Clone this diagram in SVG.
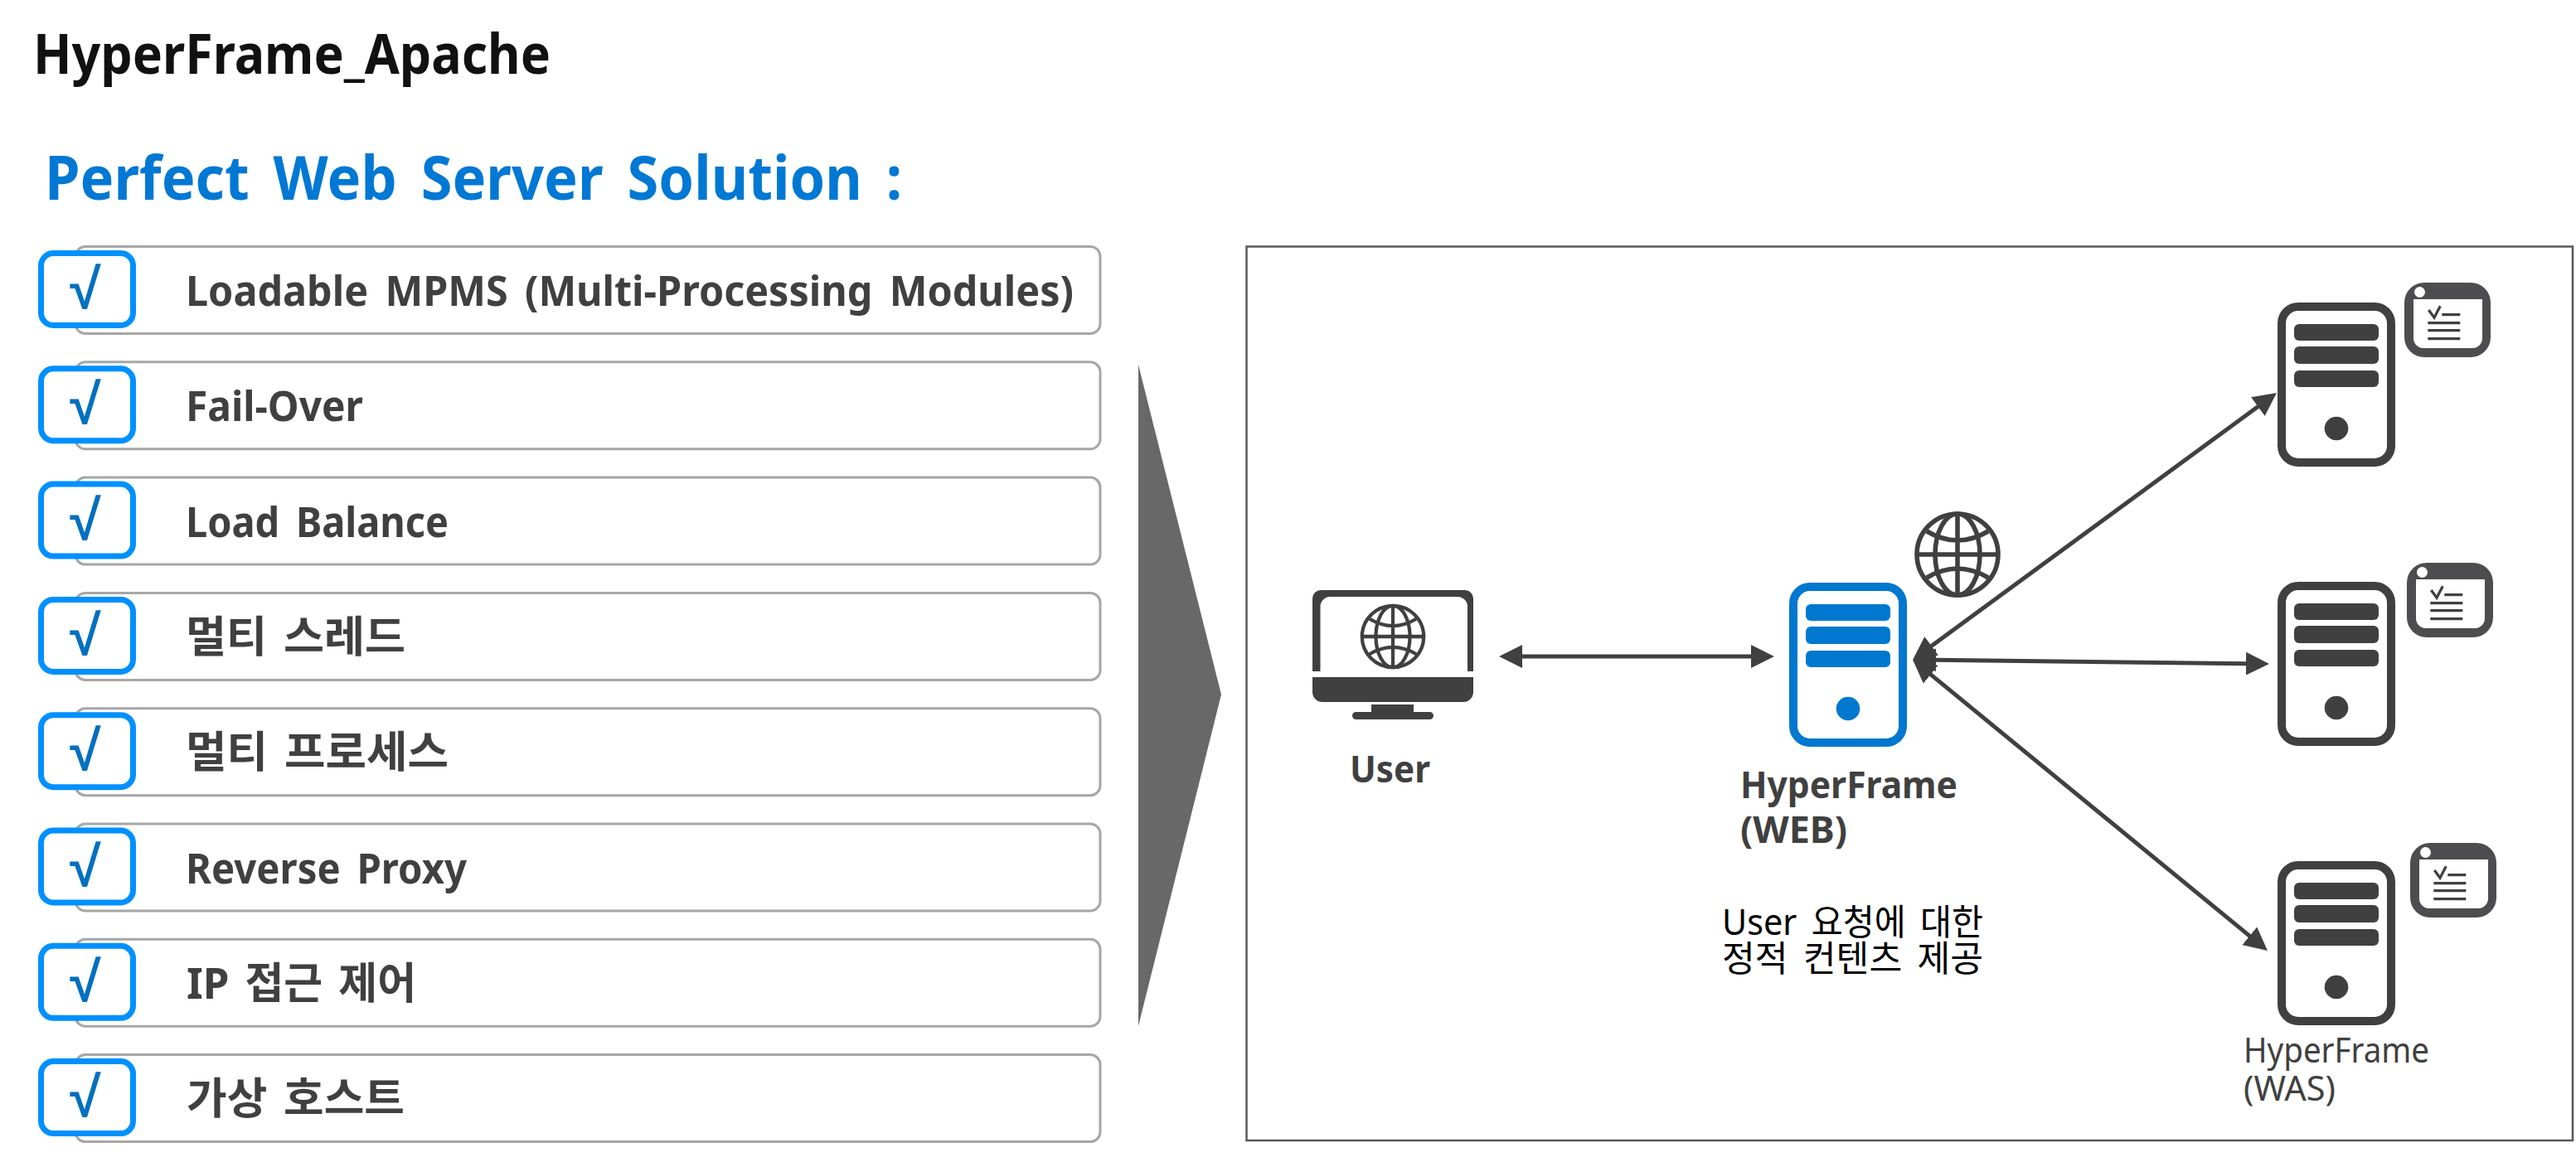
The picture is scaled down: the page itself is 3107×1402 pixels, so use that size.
<svg xmlns="http://www.w3.org/2000/svg" xmlns:xlink="http://www.w3.org/1999/xlink" width="3107" height="1402" viewBox="0 0 3107 1402">
<style>
text{font-family:"Noto Sans","Noto Sans CJK KR",sans-serif}
.b{font-weight:700}
.rowt{font-size:50px;font-weight:700;fill:#404040;word-spacing:8px}
.ko{font-size:52px;word-spacing:6px}
.row{fill:#fff;stroke:#a6a6a6;stroke-width:3}
.chk{fill:#fff;stroke:#0090ff;stroke-width:7}
.ck{font-family:"Liberation Sans",sans-serif;font-size:68px;font-weight:700;fill:#0070c0;text-anchor:middle}
.lbl{font-size:44px;font-weight:700;fill:#404040}
.was{font-size:42px;fill:#404040}
.desc{font-size:43px;fill:#000;word-spacing:7px}
.conn{stroke:#404040;stroke-width:5;fill:none;marker-start:url(#ah);marker-end:url(#ah)}
</style>
<defs>
<marker id="ah" markerUnits="userSpaceOnUse" markerWidth="28" markerHeight="28" viewBox="0 0 27 27" refX="1" refY="13.5" orient="auto-start-reverse"><path d="M0 0L27 13.5L0 27Z" fill="#404040"/></marker>
<g id="server" fill="currentColor">
<rect x="5" y="5" width="132" height="188" rx="20" fill="#fff" stroke="currentColor" stroke-width="10"/>
<rect x="20" y="26" width="102" height="20" rx="6"/>
<rect x="20" y="53" width="102" height="21" rx="6"/>
<rect x="20" y="82" width="102" height="20" rx="6"/>
<circle cx="71" cy="152" r="14.3"/>
</g>
<g id="doc">
<rect width="104" height="90" rx="24" fill="#4d4d4f"/>
<path d="M11 20H94V67A12 12 0 0 1 82 79H23A12 12 0 0 1 11 67Z" fill="#fff"/>
<circle cx="18.500" cy="11.500" r="6.500" fill="#fff"/>
<path d="M29.300 33L36 42.300L43.300 28.300M45.300 38.700H67.300M28.300 48.700H67.300M28.300 57.700H67.300M28.300 67.700H67.300" fill="none" stroke="#404040" stroke-width="3.200"/>
</g>
<g id="globe" fill="none" stroke="#404040" stroke-width="5.600">
<circle r="49"/>
<ellipse rx="27" ry="49"/>
<path d="M0-49V49M-49 0H49M-37-28Q0-6 37-28M-37 28Q0 6 37 28"/>
</g>
</defs>

<g id="title"><text x="40" y="89" class="b" font-size="66" fill="#111" textLength="624" lengthAdjust="spacingAndGlyphs">HyperFrame_Apache</text></g>
<g id="subtitle"><text x="54" y="241" class="b" font-size="74" fill="#0078d4" word-spacing="12" textLength="1034" lengthAdjust="spacingAndGlyphs">Perfect Web Server Solution :</text></g>

<g id="row1"><rect class="row" x="91" y="297.500" width="1236" height="105" rx="12"/><rect class="chk" x="49.500" y="305.500" width="111" height="87" rx="15"/><text class="ck" x="103" y="372">√</text><text class="rowt" x="224" y="369" textLength="1071" lengthAdjust="spacingAndGlyphs">Loadable MPMS (Multi-Processing Modules)</text></g>
<g id="row2"><rect class="row" x="91" y="436.800" width="1236" height="105" rx="12"/><rect class="chk" x="49.500" y="444.800" width="111" height="87" rx="15"/><text class="ck" x="103" y="511.300">√</text><text class="rowt" x="224" y="508.300" textLength="214" lengthAdjust="spacingAndGlyphs">Fail-Over</text></g>
<g id="row3"><rect class="row" x="91" y="576.100" width="1236" height="105" rx="12"/><rect class="chk" x="49.500" y="584.100" width="111" height="87" rx="15"/><text class="ck" x="103" y="650.600">√</text><text class="rowt" x="224" y="647.600" textLength="317" lengthAdjust="spacingAndGlyphs">Load Balance</text></g>
<g id="row4"><rect class="row" x="91" y="715.400" width="1236" height="105" rx="12"/><rect class="chk" x="49.500" y="723.400" width="111" height="87" rx="15"/><text class="ck" x="103" y="789.900">√</text><text class="rowt ko" x="224" y="786.900" textLength="265" lengthAdjust="spacingAndGlyphs">멀티 스레드</text></g>
<g id="row5"><rect class="row" x="91" y="854.700" width="1236" height="105" rx="12"/><rect class="chk" x="49.500" y="862.700" width="111" height="87" rx="15"/><text class="ck" x="103" y="929.200">√</text><text class="rowt ko" x="224" y="926.200" textLength="317" lengthAdjust="spacingAndGlyphs">멀티 프로세스</text></g>
<g id="row6"><rect class="row" x="91" y="994" width="1236" height="105" rx="12"/><rect class="chk" x="49.500" y="1002" width="111" height="87" rx="15"/><text class="ck" x="103" y="1068.500">√</text><text class="rowt" x="224" y="1065.500" textLength="339" lengthAdjust="spacingAndGlyphs">Reverse Proxy</text></g>
<g id="row7"><rect class="row" x="91" y="1133.300" width="1236" height="105" rx="12"/><rect class="chk" x="49.500" y="1141.300" width="111" height="87" rx="15"/><text class="ck" x="103" y="1207.800">√</text><text class="rowt ko" x="225" y="1204.800" textLength="277" lengthAdjust="spacingAndGlyphs">IP 접근 제어</text></g>
<g id="row8"><rect class="row" x="91" y="1272.600" width="1236" height="105" rx="12"/><rect class="chk" x="49.500" y="1280.600" width="111" height="87" rx="15"/><text class="ck" x="103" y="1347.100">√</text><text class="rowt ko" x="225" y="1344.100" textLength="263" lengthAdjust="spacingAndGlyphs">가상 호스트</text></g>

<g id="big-arrow"><path d="M1373 440L1473 838L1373 1238Z" fill="#686868"/></g>
<g id="frame"><rect x="1503.500" y="297.500" width="1599.500" height="1078.500" fill="#fff" stroke="#595959" stroke-width="2.500"/></g>

<g id="user">
<path fill="#404040" d="M1593 712H1767A10 10 0 0 1 1777 722V810H1770V732A12 12 0 0 0 1758 720H1604A12 12 0 0 0 1592.500 732V810H1583V722A10 10 0 0 1 1593 712ZM1583 817H1777V835A12 12 0 0 1 1765 847H1595A12 12 0 0 1 1583 835ZM1654 850H1705V859H1724.500A4.500 4.500 0 0 1 1724.500 868H1635.500A4.500 4.500 0 0 1 1635.500 859H1654Z"/>
<use xlink:href="#globe" href="#globe" transform="translate(1680 768) scale(.76)"/>
<text class="lbl" x="1628" y="944" textLength="97" lengthAdjust="spacingAndGlyphs">User</text>
</g>
<g id="web">
<use xlink:href="#server" href="#server" x="2158" y="703" color="#0078d0"/>
<text class="lbl" x="2099" y="963" textLength="262" lengthAdjust="spacingAndGlyphs">HyperFrame</text>
<text class="lbl" x="2099" y="1017" textLength="129" lengthAdjust="spacingAndGlyphs">(WEB)</text>
<text class="desc" x="2077" y="1128" textLength="315" lengthAdjust="spacingAndGlyphs">User 요청에 대한</text>
<text class="desc" x="2077" y="1172" textLength="315" lengthAdjust="spacingAndGlyphs">정적 컨텐츠 제공</text>
</g>
<g id="internet"><use xlink:href="#globe" href="#globe" transform="translate(2361 669)"/></g>
<g id="was1"><use xlink:href="#server" href="#server" x="2747" y="365" color="#404040"/><use xlink:href="#doc" href="#doc" x="2900" y="341"/></g>
<g id="was2"><use xlink:href="#server" href="#server" x="2747" y="702" color="#404040"/><use xlink:href="#doc" href="#doc" x="2903" y="679"/></g>
<g id="was3"><use xlink:href="#server" href="#server" x="2747" y="1039" color="#404040"/><use xlink:href="#doc" href="#doc" x="2907" y="1017"/>
<text class="was" x="2706" y="1282" textLength="224" lengthAdjust="spacingAndGlyphs">HyperFrame</text>
<text class="was" x="2706" y="1328" textLength="111" lengthAdjust="spacingAndGlyphs">(WAS)</text></g>

<g id="connectors">
<path class="conn" d="M1835 792H2113"/>
<path class="conn" d="M2328.800 780L2724.200 490"/>
<path class="conn" d="M2334 796.300L2710 800.700"/>
<path class="conn" d="M2327.900 813.100L2714.100 1129.900"/>
</g>
</svg>
